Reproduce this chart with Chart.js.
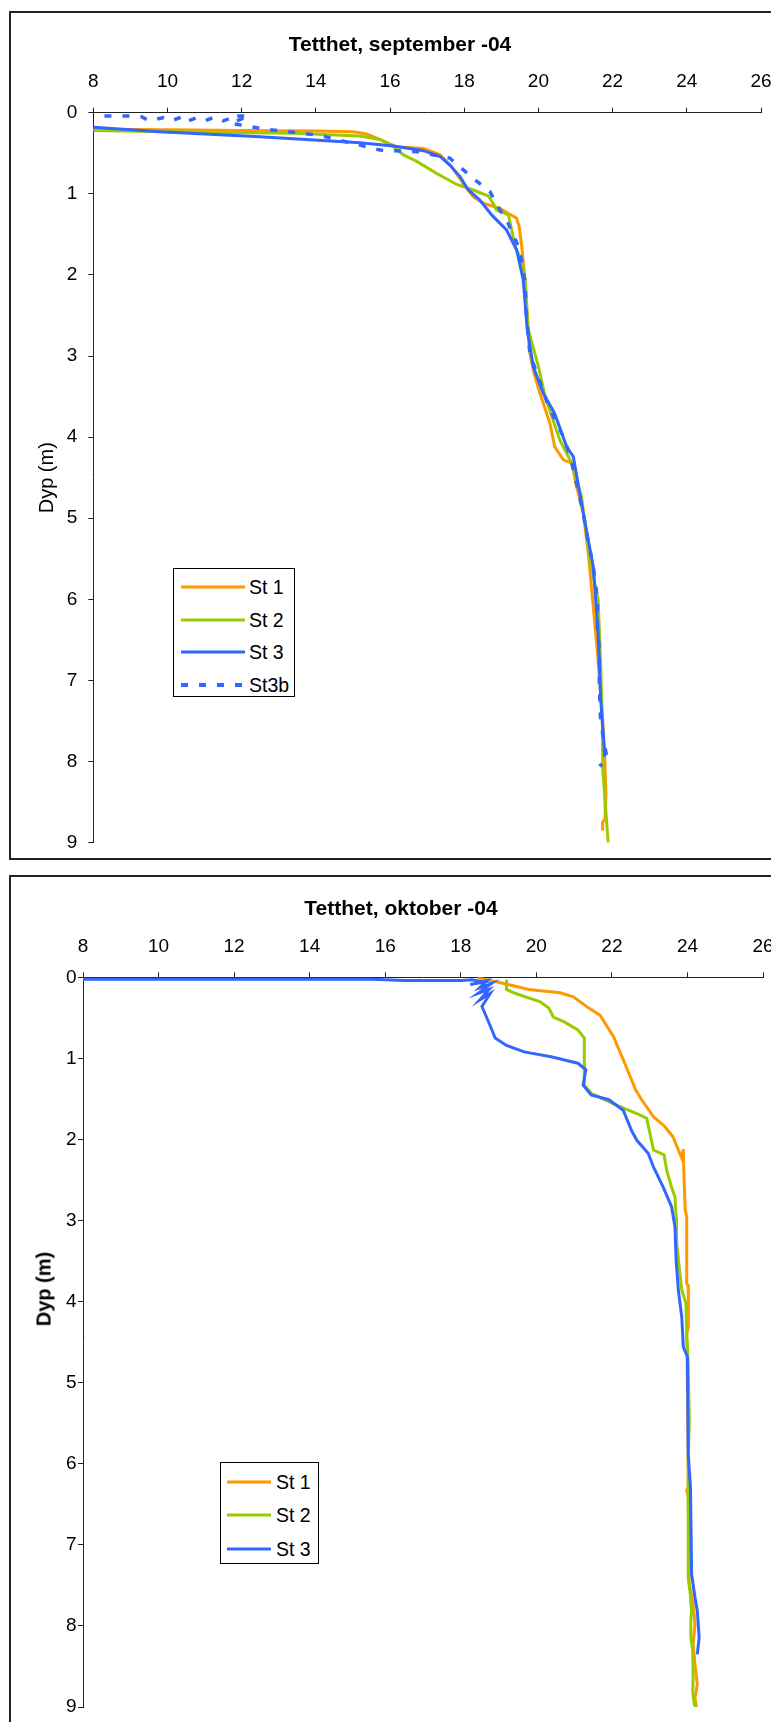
<!DOCTYPE html>
<html>
<head>
<meta charset="utf-8">
<script src="https://cdn.jsdelivr.net/npm/chart.js@4.4.1/dist/chart.umd.min.js"></script>
<style>
html, body { margin: 0; padding: 0; background: #fff; overflow: hidden; }
body { position: relative; width: 771px; height: 1722px; font-family: "Liberation Sans", Arial, sans-serif; }
.ramme { position: absolute; border: 2px solid #222; box-sizing: border-box; }
.flate { position: absolute; left: 0; width: 771px; }
.forklaring { position: absolute; border: 1px solid #000; background: #fff; box-sizing: border-box; }
.forklaring .rad { position: absolute; left: 0; height: 22px; line-height: 22px; font-size: 19.5px; color: #000; white-space: nowrap; }
.forklaring svg { position: absolute; top: 0; }
.forklaring span { position: absolute; top: 0; }
.ytittel { position: absolute; font-size: 20px; font-weight: bold; color: #000; white-space: nowrap; transform: translate(-50%, -50%) rotate(-90deg); }
</style>
</head>
<body>
<div class="ramme" style="left:9px; top:11px; width:800px; height:849px;"></div>
<div class="ramme" style="left:9px; top:875px; width:800px; height:900px;"></div>

<div class="flate" style="top:0; height:866px;"><canvas id="sep"></canvas></div>
<div class="flate" style="top:866px; height:856px;"><canvas id="okt"></canvas></div>

<div class="ytittel" style="left:44px; top:1289px;">Dyp (m)</div>
<div class="forklaring" id="legSep" style="left:173px; top:568px; width:122px; height:129px;"></div>
<div class="forklaring" id="legOkt" style="left:220px; top:1462px; width:99px; height:102px;"></div>

<script>
// tetthet (x) og dyp (y), september -04
const sepSt1Tetthet = [8, 10, 12, 14, 15.0, 15.37, 15.86, 16.18, 16.9, 17.35, 17.66, 17.97, 18.24, 18.51, 18.96, 19.41, 19.48, 19.55, 19.62, 19.68, 19.77, 19.88, 20.04, 20.31, 20.44, 20.67, 20.9, 21.03, 21.21, 21.3, 21.35, 21.4, 21.5, 21.6, 21.7, 21.75, 21.79, 21.82, 21.8, 21.73, 21.73];
const sepSt1Dyp     = [0.205, 0.21, 0.22, 0.225, 0.234, 0.263, 0.357, 0.42, 0.44, 0.52, 0.666, 0.87, 1.035, 1.117, 1.18, 1.30, 1.405, 1.65, 1.98, 2.47, 2.97, 3.21, 3.46, 3.83, 4.12, 4.28, 4.32, 4.61, 4.94, 5.27, 5.45, 5.7, 6.2, 6.7, 7.3, 7.6, 8.0, 8.4, 8.7, 8.75, 8.85];

const sepSt2Tetthet = [8, 10, 13.39, 15.19, 15.73, 16.09, 16.36, 16.72, 17.26, 17.8, 18.24, 18.65, 18.78, 18.87, 19.19, 19.28, 19.37, 19.55, 19.64, 19.73, 20.0, 20.18, 20.58, 20.9, 21.16, 21.34, 21.48, 21.61, 21.68, 21.73, 21.73, 21.8, 21.88];
const sepSt2Dyp     = [0.22, 0.235, 0.254, 0.287, 0.33, 0.42, 0.52, 0.60, 0.75, 0.885, 0.953, 1.027, 1.12, 1.2, 1.26, 1.446, 1.65, 1.82, 2.04, 2.68, 3.13, 3.5, 4.04, 4.32, 4.73, 5.35, 5.72, 6.0, 6.83, 7.65, 8.06, 8.5, 9.0];

const sepSt3Tetthet = [8, 9.8, 12.49, 15.19, 16.09, 16.9, 17.35, 17.61, 17.89, 18.11, 18.42, 18.74, 19.14, 19.41, 19.59, 19.7, 19.86, 20.13, 20.44, 20.76, 20.94, 21.21, 21.48, 21.61, 21.68, 21.79];
const sepSt3Dyp     = [0.18, 0.234, 0.296, 0.37, 0.41, 0.468, 0.54, 0.645, 0.79, 0.953, 1.076, 1.26, 1.446, 1.69, 2.06, 2.68, 3.13, 3.46, 3.71, 4.12, 4.24, 4.94, 5.6, 6.42, 7.24, 7.94];

const sepSt3bTetthet = [8.3, 8.9, 9.3, 9.5, 9.9, 10.1, 10.4, 10.5, 10.8, 11.0, 11.3, 11.5, 11.7, 11.7, 12.2, 11.7, 12.67, 14.11, 15.19, 15.73, 16.72, 17.61, 18.24, 18.69, 18.96, 19.14, 19.5, 19.64, 19.67, 19.73, 19.77, 20.27, 20.72, 20.9, 21.21, 21.3, 21.48, 21.59, 21.59, 21.64, 21.64, 21.67, 21.77, 21.85, 21.65];
const sepSt3bDyp     = [0.04, 0.04, 0.05, 0.1, 0.06, 0.1, 0.05, 0.11, 0.06, 0.1, 0.05, 0.1, 0.07, 0.04, 0.04, 0.13, 0.205, 0.28, 0.40, 0.46, 0.48, 0.56, 0.81, 0.97, 1.2, 1.32, 1.69, 2.1, 2.45, 2.76, 2.97, 3.62, 4.04, 4.32, 4.94, 5.19, 5.6, 6.0, 6.38, 6.58, 7.0, 7.45, 7.78, 7.95, 8.06];

// oktober -04
const oktSt1Tetthet = [18.44, 19.09, 19.8, 20.63, 20.98, 21.39, 21.69, 22.04, 22.34, 22.63, 22.79, 23.1, 23.4, 23.62, 23.76, 23.85, 23.89, 23.91, 23.94, 23.98, 23.98, 24.02, 24.02, 24.03, 23.98, 24.0, 24.02, 24.02, 23.98, 24.02, 24.05, 24.15, 24.2, 24.15, 24.2, 24.26, 24.2, 24.24];
const oktSt1Dyp     = [0.005, 0.07, 0.15, 0.19, 0.24, 0.38, 0.47, 0.73, 1.06, 1.39, 1.51, 1.72, 1.84, 1.97, 2.13, 2.23, 2.12, 2.48, 2.86, 2.96, 3.78, 3.8, 4.23, 4.31, 4.4, 5.0, 5.9, 6.3, 6.33, 6.4, 7.48, 7.73, 7.98, 8.22, 8.47, 8.72, 8.89, 9.0];

const oktSt2Tetthet = [19.21, 19.21, 19.45, 20.09, 20.33, 20.45, 20.74, 21.1, 21.27, 21.27, 21.45, 22.13, 22.66, 22.92, 23.01, 23.1, 23.38, 23.45, 23.58, 23.67, 23.7, 23.71, 23.78, 23.85, 23.96, 23.98, 24.0, 24.02, 24.05, 24.02, 24.02, 24.07, 24.11, 24.09, 24.09, 24.14, 24.15, 24.14, 24.18, 24.22];
const oktSt2Dyp     = [0.03, 0.15, 0.2, 0.30, 0.38, 0.49, 0.55, 0.65, 0.75, 1.33, 1.43, 1.58, 1.68, 1.74, 1.93, 2.13, 2.19, 2.38, 2.59, 2.71, 2.96, 3.24, 3.57, 3.86, 4.02, 4.4, 4.56, 4.81, 5.47, 5.96, 7.4, 7.59, 7.81, 7.94, 8.14, 8.31, 8.64, 8.81, 8.97, 9.0];

const oktSt3Tetthet = [8, 12, 15.66, 16.5, 18.03, 18.3, 18.6, 18.25, 18.7, 18.5, 18.8, 18.45, 18.75, 18.5, 18.78, 18.56, 18.79, 18.91, 19.21, 19.68, 20.39, 21.1, 21.31, 21.24, 21.45, 21.92, 22.3, 22.52, 22.66, 22.96, 23.1, 23.36, 23.58, 23.67, 23.7, 23.76, 23.85, 23.89, 24.0, 24.02, 24.08, 24.11, 24.2, 24.26, 24.31, 24.26];
const oktSt3Dyp     = [0.025, 0.025, 0.025, 0.04, 0.04, 0.03, 0.06, 0.09, 0.04, 0.13, 0.08, 0.2, 0.15, 0.28, 0.2, 0.36, 0.61, 0.75, 0.84, 0.92, 0.98, 1.06, 1.14, 1.33, 1.45, 1.51, 1.64, 1.89, 2.01, 2.17, 2.34, 2.59, 2.83, 3.08, 3.49, 3.86, 4.19, 4.56, 4.68, 5.88, 6.29, 7.36, 7.65, 7.81, 8.14, 8.35];

const tetthetTicks = [8, 10, 12, 14, 16, 18, 20, 22, 24, 26];
const dypTicks = [0, 1, 2, 3, 4, 5, 6, 7, 8, 9];

const ORANSJE = "rgb(255, 153, 0)";
const GRONN = "rgb(153, 204, 0)";
const BLAA = "rgb(51, 102, 255)";
const FONT = "'Liberation Sans', Arial, sans-serif";

function punkter(xs, ys) {
  return xs.map((x, i) => ({ x: x, y: ys[i] }));
}

function serie(navn, xs, ys, farge, orden, stiplet) {
  return {
    label: navn,
    data: punkter(xs, ys),
    borderColor: farge,
    backgroundColor: farge,
    borderWidth: stiplet ? 3.5 : 3,
    borderDash: stiplet ? [7, 11] : [],
    showLine: true,
    pointRadius: 0,
    tension: 0,
    order: orden
  };
}

// lager innstillinger for ett diagram
function innstillinger(tittel, p) {
  const tittelHoyde = p.tittelTopp + 21 * 1.2;
  return {
    responsive: false,
    animation: false,
    layout: { padding: { left: 39, right: p.hoyre, top: 0, bottom: p.bunn } },
    plugins: {
      legend: { display: false },
      tooltip: { enabled: false },
      title: {
        display: true,
        text: tittel,
        color: "#000",
        font: { family: FONT, size: 21, weight: "bold", lineHeight: 1.2 },
        padding: { top: p.tittelTopp, bottom: 0 }
      }
    },
    scales: {
      x: {
        type: "linear",
        position: "top",
        min: 8,
        max: 26,
        afterBuildTicks: (s) => { s.ticks = tetthetTicks.map(v => ({ value: v })); },
        afterFit: (s) => { s.height = p.topp - tittelHoyde; s.paddingLeft = 0; s.paddingRight = 0; },
        ticks: { color: "#000", font: { family: FONT, size: 19 }, padding: 14.5, maxRotation: 0, autoSkip: false },
        grid: { display: true, drawOnChartArea: false, drawTicks: true, tickLength: 5, color: "#222" },
        border: { display: true, color: "#222", width: 1 }
      },
      y: {
        type: "linear",
        reverse: true,
        min: 0,
        max: 9,
        afterBuildTicks: (s) => { s.ticks = dypTicks.map(v => ({ value: v })); },
        afterFit: (s) => { s.width = p.venstre - 39; s.paddingTop = 0; s.paddingBottom = 0; },
        ticks: { color: "#000", font: { family: FONT, size: 19 }, padding: p.yPad, autoSkip: false },
        grid: { display: true, drawOnChartArea: false, drawTicks: true, tickLength: 5, color: "#222" },
        border: { display: true, color: "#222", width: 1 },
        title: {
          display: p.yTittel,
          text: "Dyp (m)",
          color: "#000",
          font: { family: FONT, size: 20, lineHeight: 1 },
          padding: { top: -2, bottom: 0 }
        }
      }
    }
  };
}

const sepCanvas = document.getElementById("sep");
sepCanvas.width = 771; sepCanvas.height = 866;
const sepChart = new Chart(sepCanvas.getContext("2d"), {
  type: "scatter",
  data: {
    datasets: [
      serie("St 1", sepSt1Tetthet, sepSt1Dyp, ORANSJE, 4, false),
      serie("St 2", sepSt2Tetthet, sepSt2Dyp, GRONN, 3, false),
      serie("St 3", sepSt3Tetthet, sepSt3Dyp, BLAA, 2, false),
      serie("St3b", sepSt3bTetthet, sepSt3bDyp, BLAA, 1, true)
    ]
  },
  options: innstillinger("Tetthet, september -04", { venstre: 93.3, topp: 112.7, tittelTopp: 32.4, hoyre: 10, bunn: 23.3, yPad: 11, yTittel: true })
});

const oktCanvas = document.getElementById("okt");
oktCanvas.width = 771; oktCanvas.height = 856;
const oktChart = new Chart(oktCanvas.getContext("2d"), {
  type: "scatter",
  data: {
    datasets: [
      serie("St 1", oktSt1Tetthet, oktSt1Dyp, ORANSJE, 3, false),
      serie("St 2", oktSt2Tetthet, oktSt2Dyp, GRONN, 2, false),
      serie("St 3", oktSt3Tetthet, oktSt3Dyp, BLAA, 1, false)
    ]
  },
  options: innstillinger("Tetthet, oktober -04", { venstre: 83, topp: 111.3, tittelTopp: 30.7, hoyre: 8, bunn: 15, yPad: 1.5, yTittel: false })
});

// forklaring (legend) laget fra datasettene
function lagForklaring(chart, id, rader, strekX, strekB, tekstX) {
  const boks = document.getElementById(id);
  chart.data.datasets.forEach((ds, i) => {
    const rad = document.createElement("div");
    rad.className = "rad";
    rad.style.top = (rader[i] - 11) + "px";
    rad.style.width = "100%";
    const dash = ds.borderDash.length ? ' stroke-dasharray="7 11"' : "";
    rad.innerHTML = '<svg width="' + strekB + '" height="22" style="left:' + strekX + 'px">' +
      '<line x1="0" y1="11" x2="' + strekB + '" y2="11" stroke="' + ds.borderColor + '" stroke-width="' + (ds.borderDash.length ? 4 : 3) + '"' + dash + '/></svg>' +
      '<span style="left:' + tekstX + 'px">' + ds.label + '</span>';
    boks.appendChild(rad);
  });
}
lagForklaring(sepChart, "legSep", [18, 50.5, 82.5, 115.5], 7, 64, 75);
lagForklaring(oktChart, "legOkt", [18.5, 52, 86], 6, 44, 55);
</script>
</body>
</html>
